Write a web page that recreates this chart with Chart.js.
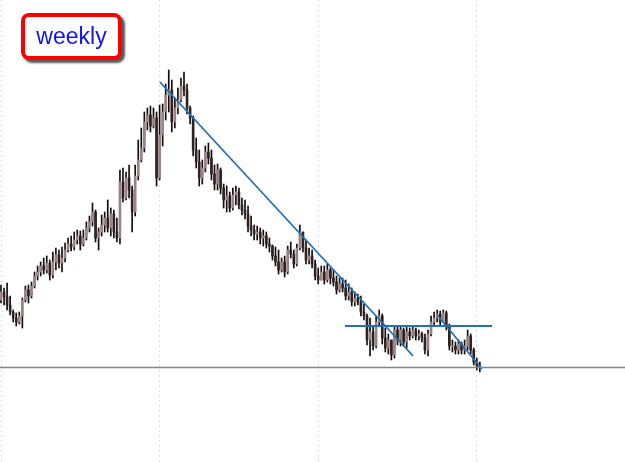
<!DOCTYPE html>
<html>
<head>
<meta charset="utf-8">
<script src="https://cdn.jsdelivr.net/npm/chart.js@4/dist/chart.umd.min.js"></script>
<style>
  html, body { margin: 0; padding: 0; background: #ffffff; }
  #wrap { position: relative; width: 625px; height: 462px; }
  #chart { position: absolute; left: 0; top: 0; }
  .tag {
    position: absolute; left: 21px; top: 13px; width: 93px; height: 39px;
    border: 4px solid #ff0000; border-radius: 8px; background: #ffffff;
    box-shadow: 3px 3px 2px rgba(50, 50, 50, 0.8);
    font-family: 'Liberation Sans', Arial, sans-serif; font-size: 23px;
    color: #1212f0; line-height: 39px; text-align: center;
  }
</style>
</head>
<body>
<div id="wrap">
  <canvas id="chart" width="625" height="462"></canvas>
  <div class="tag">weekly</div>
</div>
<script>
// weekly candles, values (one entry per week)
const firstOpen = 162;
const closes = [
  170, 165, 157, 150, 144, 140, 146, 162, 172, 166,
  176, 186, 190, 196, 192, 199, 187, 200, 207, 199,
  204, 212, 218, 215, 222, 226, 218, 224, 234, 240,
  250, 224, 230, 237, 244, 234, 248, 230, 224, 280,
  264, 284, 272, 250, 286, 302, 314, 340, 347, 336,
  344, 284, 327, 350, 367, 372, 340, 354, 362, 376,
  372, 354, 344, 312, 300, 284, 294, 310, 304, 288,
  278, 292, 274, 262, 266, 254, 267, 270, 257, 252,
  248, 236, 232, 228, 230, 224, 226, 218, 216, 206,
  200, 192, 200, 190, 212, 208, 198, 214, 230, 214,
  202, 206, 198, 186, 182, 190, 182, 192, 184, 180,
  172, 178, 174, 166, 170, 160, 164, 160, 150, 146,
  122, 130, 116, 140, 146, 124, 114, 122, 107, 132,
  122, 132, 120, 130, 126, 132, 126, 128, 124, 112,
  128, 140, 144, 148, 140, 149, 136, 116, 116, 112,
  118, 112, 116, 126, 112, 100, 96, 94
];
const highs = [
  177, 174, 179, 166, 152, 149, 150, 164, 176, 177,
  180, 190, 196, 200, 204, 206, 202, 210, 214, 212,
  215, 219, 224, 226, 230, 232, 231, 232, 240, 246,
  259, 252, 234, 247, 250, 262, 254, 252, 244, 292,
  294, 290, 297, 276, 297, 322, 334, 350, 354, 356,
  354, 350, 357, 358, 378, 392, 382, 364, 374, 384,
  390, 378, 356, 346, 324, 312, 302, 316, 319, 312,
  297, 298, 294, 278, 276, 270, 274, 276, 274, 264,
  262, 256, 246, 237, 236, 234, 232, 230, 224, 217,
  215, 212, 204, 206, 216, 220, 212, 218, 237, 230,
  222, 214, 212, 202, 194, 196, 196, 198, 194, 192,
  186, 184, 184, 182, 178, 174, 170, 168, 166, 158,
  148, 144, 136, 146, 152, 148, 134, 128, 122, 136,
  136, 136, 134, 136, 134, 136, 134, 132, 130, 128,
  132, 146, 150, 152, 151, 152, 151, 138, 122, 120,
  122, 120, 122, 132, 128, 114, 104, 100
];
const lows = [
  159, 157, 152, 147, 140, 136, 138, 134, 160, 159,
  164, 174, 182, 186, 188, 189, 182, 184, 192, 194,
  190, 200, 210, 211, 212, 218, 212, 216, 222, 230,
  236, 220, 212, 226, 230, 230, 226, 224, 220, 218,
  260, 262, 264, 230, 246, 282, 300, 310, 332, 330,
  334, 276, 282, 316, 342, 350, 330, 334, 348, 360,
  366, 348, 338, 306, 294, 276, 278, 290, 298, 282,
  272, 272, 268, 254, 250, 250, 252, 257, 253, 247,
  243, 230, 226, 222, 222, 218, 216, 214, 210, 202,
  196, 188, 190, 185, 188, 204, 194, 196, 212, 210,
  198, 198, 194, 182, 178, 182, 178, 180, 178, 176,
  168, 170, 170, 162, 162, 156, 156, 157, 146, 142,
  117, 106, 112, 114, 136, 118, 110, 108, 102, 104,
  117, 116, 116, 114, 122, 124, 122, 122, 120, 108,
  106, 126, 136, 140, 136, 142, 132, 112, 110, 108,
  108, 108, 108, 112, 108, 97, 92, 90
];
// year separators (week index)
const yearTicks = [0, 52, 104, 156];
// drawn lines: [x1, y1, x2, y2] in week / price units
const trendMain = [52.1, 380, 135.1, 106];
const rangeTop = [112.8, 136, 161.0, 136];
const trendLate = [143.0, 147, 157.7, 93];
const baseLevel = 94.5;

const opens = closes.map((c, i) => i === 0 ? firstOpen : closes[i - 1]);

const wickData = closes.map((c, i) => ({
  x: i,
  y: [Math.min(lows[i], opens[i], c), Math.max(highs[i], opens[i], c)]
}));
const bodyData = closes.map((c, i) => {
  let lo = Math.min(opens[i], c), hi = Math.max(opens[i], c);
  if (hi - lo < 1) { lo -= 0.5; hi += 0.5; }
  return { x: i, y: [lo, hi] };
});
const bodyColors = closes.map((c, i) => c >= opens[i] ? '#9a8383' : '#302222');

const seg = (a) => [{ x: a[0], y: a[1] }, { x: a[2], y: a[3] }];
const lineSet = (data, color, width) => ({
  type: 'line',
  data: data,
  borderColor: color,
  borderWidth: width,
  pointRadius: 0,
  fill: false,
  tension: 0,
  order: 0
});

new Chart(document.getElementById('chart'), {
  type: 'bar',
  data: {
    datasets: [
      {
        label: 'wick',
        data: wickData,
        backgroundColor: '#140c0c',
        barThickness: 1,
        grouped: false,
        order: 3
      },
      {
        label: 'body',
        data: bodyData,
        backgroundColor: bodyColors,
        barThickness: 2,
        grouped: false,
        order: 2
      },
      lineSet([{ x: -1, y: baseLevel }, { x: 206, y: baseLevel }], '#7b878e', 1.3),
      lineSet(seg(trendMain), '#2270b8', 1.8),
      lineSet(seg(rangeTop), '#2270b8', 1.8),
      lineSet(seg(trendLate), '#2270b8', 1.8)
    ]
  },
  options: {
    responsive: false,
    animation: false,
    layout: { padding: 0 },
    plugins: { legend: { display: false }, tooltip: { enabled: false } },
    scales: {
      x: {
        type: 'linear',
        offset: false,
        min: -0.328,
        max: 204.59,
        afterBuildTicks: (axis) => { axis.ticks = yearTicks.map(v => ({ value: v })); },
        ticks: { display: false },
        grid: { offset: false, color: 'rgba(195, 195, 240, 0.6)', drawTicks: false, lineWidth: 1 },
        border: { display: false, dash: [2, 3] }
      },
      y: {
        display: false,
        min: 0,
        max: 462
      }
    }
  }
});
</script>
</body>
</html>
